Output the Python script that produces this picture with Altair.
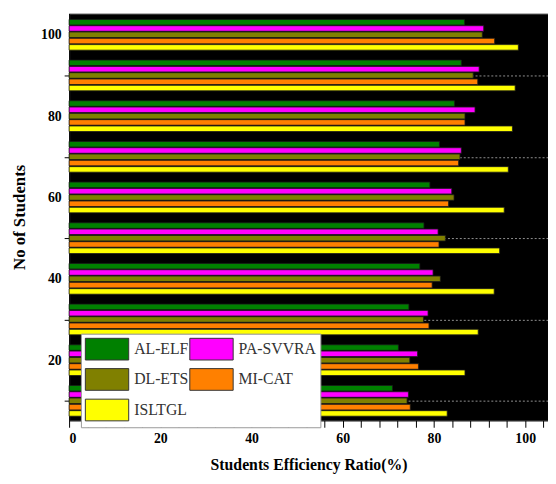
import altair as alt
import pandas as pd

students = [10, 20, 30, 40, 50, 60, 70, 80, 90, 100]
methods = ["AL-ELF", "PA-SVVRA", "DL-ETS", "MI-CAT", "ISLTGL"]
colors = ["#008000", "#FF00FF", "#808000", "#FF8000", "#FFFF00"]
al_elf = [70.9, 72.2, 74.5, 76.9, 77.8, 79.1, 81.2, 84.5, 86.0, 86.7]
pa_svvra = [74.4, 76.4, 78.7, 79.8, 80.9, 83.9, 86.0, 89.0, 89.9, 90.9]
dl_ets = [74.1, 74.7, 77.7, 81.4, 82.5, 84.4, 85.7, 86.8, 88.6, 90.6]
mi_cat = [74.8, 76.6, 78.9, 79.6, 81.1, 83.2, 85.4, 86.8, 89.6, 93.3]
isltgl = [82.9, 86.8, 89.7, 93.2, 94.4, 95.4, 96.3, 97.2, 97.8, 98.5]

series = [al_elf, pa_svvra, dl_ets, mi_cat, isltgl]
rows = []
for rank, (m, vals) in enumerate(zip(methods, series)):
    for s, v in zip(students, vals):
        rows.append({"students": s, "method": m, "rank": rank, "ratio": v})
df = pd.DataFrame(rows)

FONT = "Liberation Serif"

chart = (
    alt.Chart(df)
    .transform_calculate(center="datum.students + (2 - datum.rank) * 1.55")
    .transform_calculate(y_lo="datum.center - 0.68", y_hi="datum.center + 0.68")
    .mark_rect(stroke="#1a1a1a", strokeWidth=0.8)
    .encode(
        x=alt.X(
            "ratio:Q",
            scale=alt.Scale(domain=[0, 105], nice=False),
            axis=alt.Axis(
                values=list(range(0, 105, 4)),
                labelExpr="datum.value % 20 === 0 ? datum.label : ''",
                title="Students Efficiency Ratio(%)",
                grid=False,
                tickSize=7,
                labelPadding=4,
                titlePadding=12,
                titleFontSize=16,
            ),
        ),
        x2=alt.datum(0),
        y=alt.Y(
            "y_lo:Q",
            scale=alt.Scale(domain=[5.2, 105.26], nice=False, zero=False),
            axis=alt.Axis(
                values=students,
                labelExpr="datum.value % 20 === 0 ? datum.label : ''",
                tickColor={"condition": {"test": "datum.value % 20 === 0", "value": "transparent"}, "value": "black"},
                grid=True,
                gridColor={"condition": {"test": "datum.value % 20 === 0", "value": "transparent"}, "value": "#909090"},
                gridDash=[2, 2],
                gridWidth=1,
                tickSize=5,
                labelPadding=3,
                title="No of Students",
                titlePadding=12,
            ),
        ),
        y2="y_hi:Q",
        color=alt.Color(
            "method:N",
            scale=alt.Scale(domain=methods, range=colors),
            legend=alt.Legend(
                title=None,
                orient="none",
                legendX=12,
                legendY=325,
                columns=2,
                direction="horizontal",
                symbolType="M-2,-1H2V1H-2Z",
                symbolSize=484,
                symbolOffset=11,
                symbolStrokeColor="#333333",
                symbolStrokeWidth=1,
                symbolOpacity=1,
                labelFont=FONT,
                labelFontSize=16,
                labelColor="#333333",
                labelOffset=16,
                fillColor="white",
                strokeColor="#999999",
                padding=4,
                rowPadding=4,
                columnPadding=-4,
            ),
        ),
    )
    .properties(
        width=486,
        height=413,
        autosize=alt.AutoSizeParams(type="none"),
        padding={"left": 62, "top": 2, "right": 0, "bottom": 53},
    )
    .configure_view(fill="black", stroke="#888888")
    .configure_axis(
        labelFont=FONT,
        labelFontSize=14,
        labelFontWeight="bold",
        labelColor="black",
        titleFont=FONT,
        titleFontSize=17,
        titleFontWeight="bold",
        titleColor="black",
        domainColor="black",
        domainWidth=1,
        tickColor="black",
    )
)

chart.save("out.html", embed_options={"renderer": "svg", "actions": False})
